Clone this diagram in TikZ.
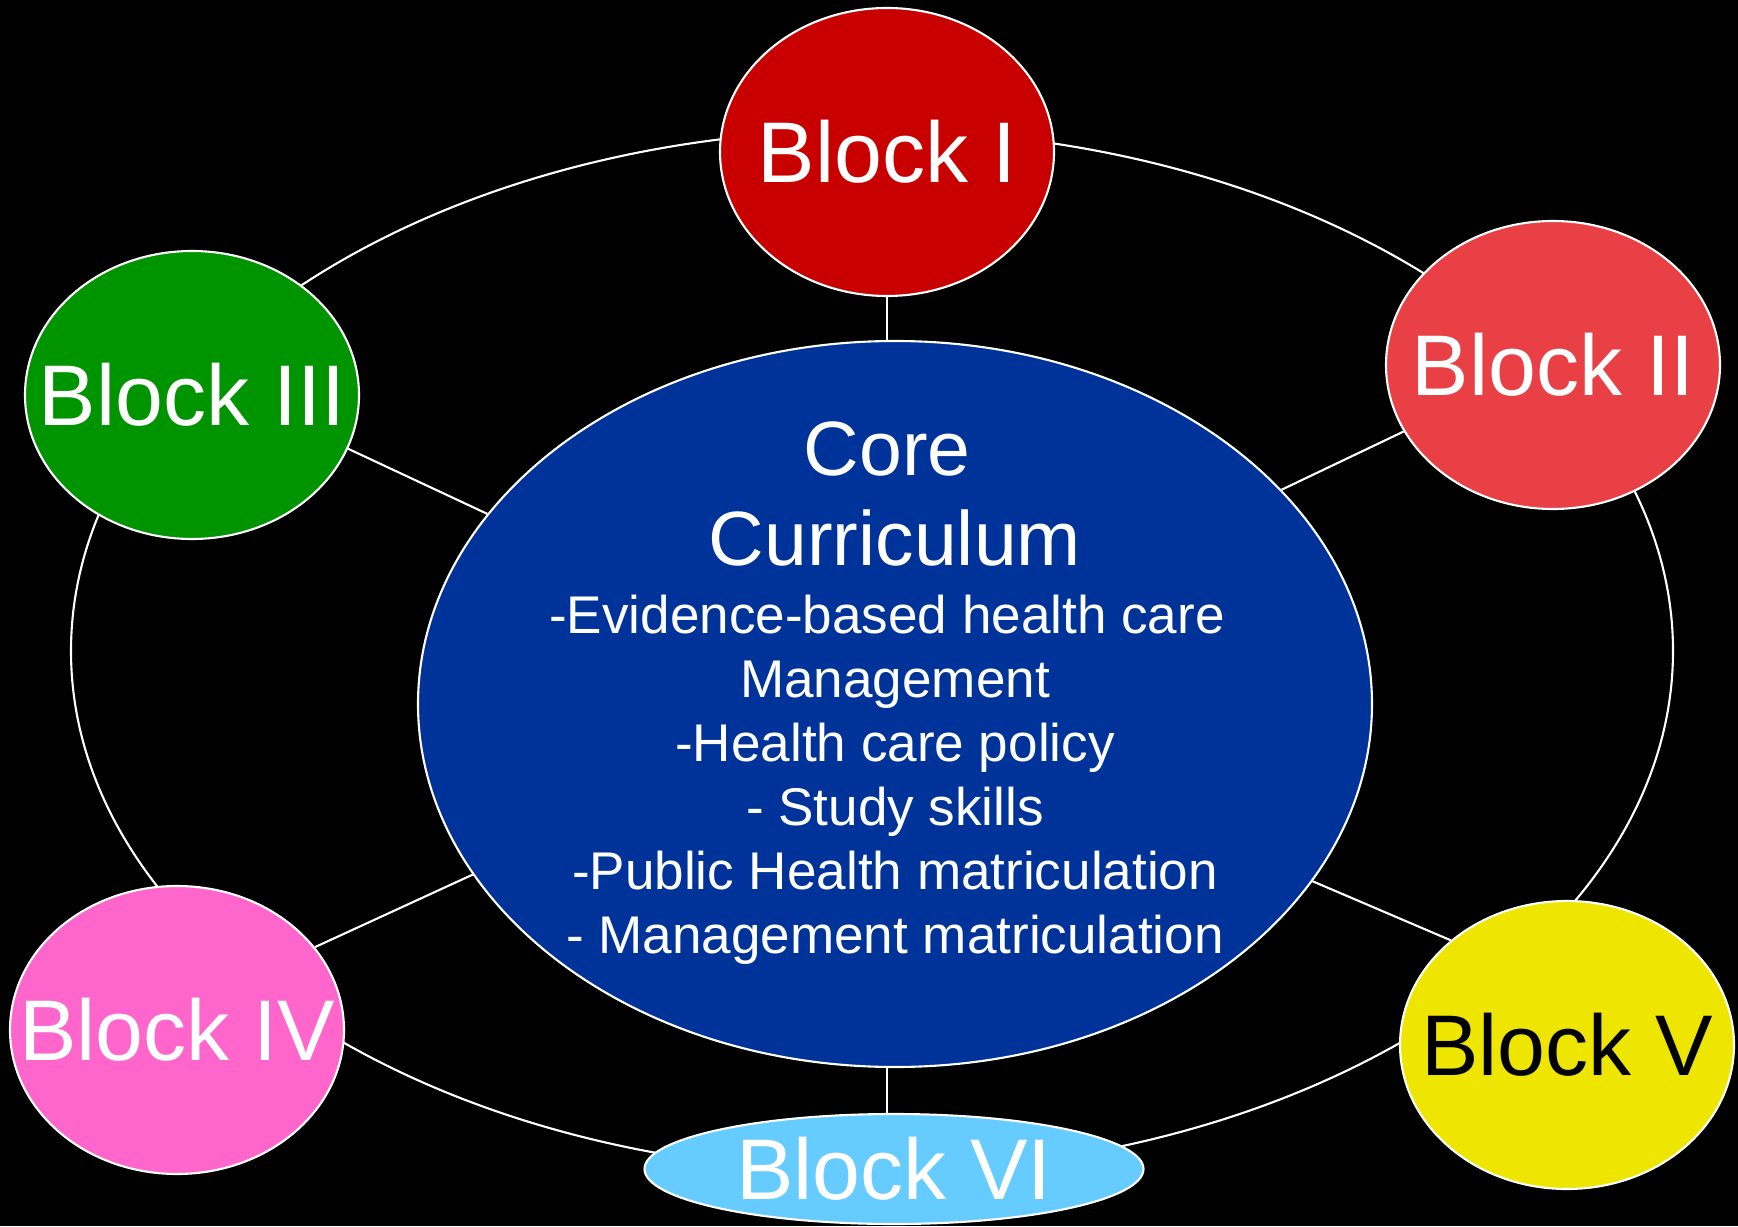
\documentclass[tikz,border=0pt]{standalone}
\usepackage{tikz}
\usepackage{fontspec}
\setmainfont{Liberation Sans}
\usetikzlibrary{shapes.geometric}
\definecolor{blockone}{RGB}{200,0,0}
\definecolor{blocktwo}{RGB}{233,64,69}
\definecolor{blockthree}{RGB}{0,148,0}
\definecolor{blockfour}{RGB}{255,102,204}
\definecolor{blockfive}{RGB}{238,230,0}
\definecolor{blocksix}{RGB}{102,204,255}
\definecolor{coreblue}{RGB}{0,51,153}
\newcommand{\blockfont}{\fontsize{24.5}{29}\selectfont}
\newcommand{\corebig}{\fontsize{21.9}{25.6}\selectfont}
\newcommand{\coresmall}{\fontsize{15.1}{18.2}\selectfont}
\newcommand{\nowidth}[1]{\makebox[0pt]{#1}}

\begin{document}
\begin{tikzpicture}[
  block/.style={ellipse, draw=white, line width=0.6pt, inner sep=0pt, minimum width=3.34cm, minimum height=2.88cm, text=white, font=\blockfont},
  spoke/.style={draw=white, line width=0.6pt}]
        \fill[black] (0,0) rectangle (17.38,12.26);
        \useasboundingbox (0,0) rectangle (17.38,12.26);
        %ring
        \coordinate (ring) at (8.72,5.75);
        \path [spoke] (ring) ellipse [x radius=8.01, y radius=5.21];
        %nodes
        \node[ellipse, draw=white, line width=0.6pt, fill=coreblue, inner sep=0pt, minimum width=9.54cm, minimum height=7.26cm] (core) at (8.95,5.22) {};
        \node[text=white, align=center, font=\coresmall] (coretext) at (8.95,5.33) {\corebig Core\hspace*{0.2em}\\[7.4pt] \corebig Curriculum\\[1.1pt] \hspace*{-0.3em}-Evidence-based health care\\ Management\\ -Health care policy\\ - Study skills\\ -Public Health matriculation\\ - Management matriculation};
        \node[block, fill=blockone] (b1) at (8.87,10.74) {\nowidth{Block I}};
        \node[block, fill=blocktwo] (b2) at (15.53,8.61) {\nowidth{Block II}};
        \node[block, fill=blockthree] (b3) at (1.92,8.31) {\nowidth{Block III}};
        \node[block, fill=blockfour] (b4) at (1.77,1.96) {\nowidth{Block IV}};
        \node[block, fill=blockfive, text=black] (b5) at (15.67,1.81) {\nowidth{Block V}};
        \node[block, fill=blocksix, minimum width=4.99cm, minimum height=1.10cm] (b6) at (8.94,0.57) {\nowidth{Block VI}};
        %edges
        \path [spoke] (b1.south) to (b1.south |- core.north);
        \path [spoke] (b2.204) to (core.29);
        \path [spoke] (b3.341) to (core.155);
        \path [spoke] (b4.31) to (core.202);
        \path [spoke] (b5.138) to (core.337);
        \path [spoke] (b6.north -| b1.south) to (core.south -| b1.south);
      \end{tikzpicture}
\end{document}
